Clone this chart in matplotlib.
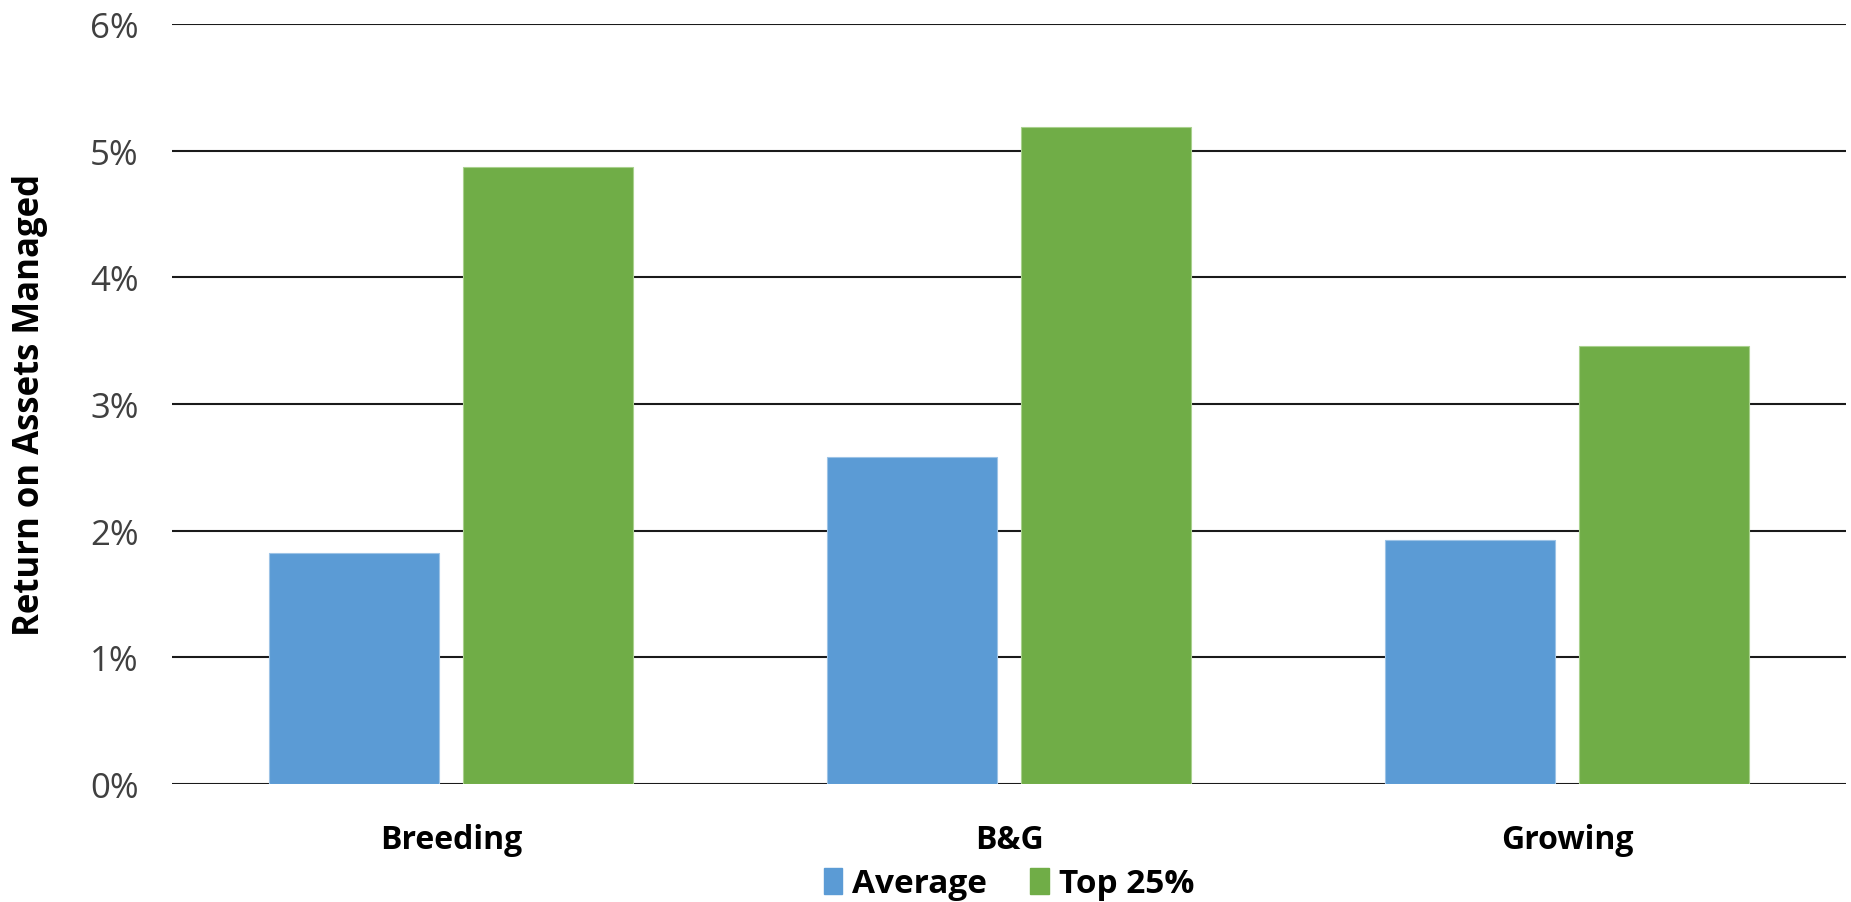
import numpy as np
import matplotlib
matplotlib.use("Agg")
import matplotlib.pyplot as plt
from matplotlib.patches import Patch

# values (percent)
categories = ["Breeding", "B&G", "Growing"]
average = [1.82, 2.58, 1.93]
top25 = [4.87, 5.19, 3.46]
yticks = [0, 1, 2, 3, 4, 5, 6]

blue = "#5B9BD5"
green = "#70AD47"

plt.rcParams["font.family"] = ["Open Sans", "DejaVu Sans"]

fig = plt.figure(figsize=(18.51, 9.03), dpi=100)
ax = fig.add_axes([172 / 1851, 1 - 785 / 903, (1846 - 172) / 1851, (785 - 25) / 903])

x = np.arange(len(categories))
w = 0.305
off = 0.1735
ax.bar(x - off, average, w, color=blue, edgecolor="#9DC3E6", linewidth=0.8, zorder=3, label="Average")
ax.bar(x + off, top25, w, color=green, edgecolor="#A9D18E", linewidth=0.8, zorder=3, label="Top 25%")

ax.set_xlim(-0.5, 2.5)
ax.set_ylim(0, 6)
ax.set_yticks(yticks)
ax.set_yticklabels([f"{t}%" for t in yticks])
ax.yaxis.grid(True, color="#1a1a1a", linewidth=1.5, zorder=0)
ax.set_axisbelow(True)
for s in ax.spines.values():
    s.set_visible(False)
ax.tick_params(axis="y", length=0, pad=24, labelsize=25, labelcolor="#404040")
ax.tick_params(axis="x", length=0, pad=28, labelsize=23)
ax.set_xticks(x)
ax.set_xticklabels(categories, fontweight="bold")

fig.text(30 / 1851, 1 - 405 / 903, "Return on Assets Managed", rotation=90,
         ha="center", va="center", fontsize=25, fontweight="bold")

handles = [Patch(color=blue), Patch(color=green)]
fig.legend(handles, ["Average", "Top 25%"], loc="center", ncol=2,
           bbox_to_anchor=(1009 / 1851, 1 - 885 / 903), frameon=False,
           prop={"size": 24, "weight": "bold"}, handlelength=0.55, handleheight=0.8,
           handletextpad=0.3, columnspacing=1.3, borderaxespad=0)

fig.savefig("out.png", dpi=100)
